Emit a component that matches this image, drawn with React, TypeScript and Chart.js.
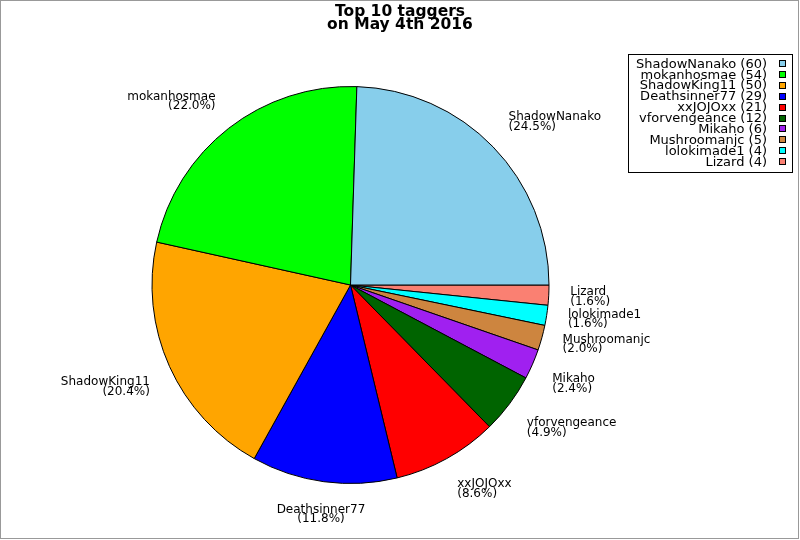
import React, { useEffect, useRef } from "react";
import { Chart, registerables } from "chart.js";

Chart.register(...registerables);

const titleLines = ["Top 10 taggers", "on May 4th 2016"];
const names = [
  "ShadowNanako",
  "mokanhosmae",
  "ShadowKing11",
  "Deathsinner77",
  "xxJOJOxx",
  "vforvengeance",
  "Mikaho",
  "Mushroomanjc",
  "lolokimade1",
  "Lizard",
];
const counts = [60, 54, 50, 29, 21, 12, 6, 5, 4, 4];
const colors = [
  "#87CEEB",
  "#00FF00",
  "#FFA500",
  "#0000FF",
  "#FF0000",
  "#006400",
  "#A020F0",
  "#CD853F",
  "#00FFFF",
  "#FA8072",
];

const FONT = "'DejaVu Sans', 'Liberation Sans', sans-serif";

// The pie is drawn counter-clockwise from 3 o'clock in the reference;
// Chart.js draws clockwise, so feed the series reversed starting at 3 o'clock.
const pieLabels = names.slice().reverse();
const pieValues = counts.slice().reverse();
const pieColors = colors.slice().reverse();

const sliceLabelPlugin = {
  id: "sliceLabels",
  afterDatasetsDraw(chart: any) {
    const ctx = chart.ctx;
    const meta = chart.getDatasetMeta(0);
    const data = chart.data.datasets[0].data as number[];
    const total = data.reduce((s, v) => s + v, 0);
    ctx.save();
    ctx.font = `12px ${FONT}`;
    ctx.fillStyle = "#000";
    ctx.textBaseline = "alphabetic";
    meta.data.forEach((arc: any, i: number) => {
      const p = arc.getProps(["x", "y", "startAngle", "endAngle", "outerRadius"], true);
      const mid = (p.startAngle + p.endAngle) / 2;
      const R = p.outerRadius + 21.5;
      const px = p.x + R * Math.cos(mid);
      const py = p.y + R * Math.sin(mid);
      const c = Math.cos(mid);
      const s = -Math.sin(mid); // math orientation (up positive)
      const lines = [
        String(chart.data.labels[i]),
        `(${((data[i] / total) * 100).toFixed(1)}%)`,
      ];
      const w = Math.max(...lines.map((l) => ctx.measureText(l).width));
      const h = 21;
      const dx = c > 0.34 ? 0 : c < -0.34 ? 1 : 0.5;
      const dy = s > 0.34 ? 1 : s < -0.34 ? 0 : 0.5;
      const left = px - dx * w;
      const top = py - dy * h;
      lines.forEach((line, k) => {
        const lw = ctx.measureText(line).width;
        let x = left;
        if (dx === 1) x = left + w - lw;
        else if (dx === 0.5) x = left + (w - lw) / 2;
        ctx.fillText(line, x, top + 9.5 + k * 9.7);
      });
    });
    ctx.restore();
  },
};

const titleLegendFramePlugin = {
  id: "titleLegendFrame",
  afterDraw(chart: any) {
    const ctx = chart.ctx;
    ctx.save();
    // outer frame
    ctx.strokeStyle = "#999999";
    ctx.lineWidth = 1;
    ctx.strokeRect(0.5, 0.5, 798, 538);
    // title
    ctx.fillStyle = "#000";
    ctx.font = `bold 15.5px ${FONT}`;
    ctx.textAlign = "center";
    ctx.textBaseline = "alphabetic";
    titleLines.forEach((t, i) => ctx.fillText(t, 400, 15.6 + i * 13.8));
    // legend box
    ctx.strokeStyle = "#000";
    ctx.strokeRect(628.5, 54.5, 164, 118);
    ctx.font = `13px ${FONT}`;
    ctx.textAlign = "right";
    names.forEach((n, i) => {
      const rowY = 60 + i * 10.9;
      ctx.fillStyle = "#000";
      ctx.fillText(`${n} (${counts[i]})`, 767, rowY + 7.6);
      ctx.fillStyle = colors[i];
      ctx.fillRect(779.5, Math.round(rowY) + 0.5, 6, 6);
      ctx.strokeStyle = "#000";
      ctx.strokeRect(779.5, Math.round(rowY) + 0.5, 6, 6);
    });
    ctx.restore();
  },
};

const whiteBg = {
  id: "whiteBg",
  beforeDraw(chart: any) {
    const ctx = chart.ctx;
    ctx.save();
    ctx.fillStyle = "#fff";
    ctx.fillRect(0, 0, chart.width, chart.height);
    ctx.restore();
  },
};

export default function App() {
  const ref = useRef<HTMLCanvasElement | null>(null);
  useEffect(() => {
    if (!ref.current) return;
    const chart = new Chart(ref.current, {
      type: "pie",
      data: {
        labels: pieLabels,
        datasets: [
          {
            data: pieValues,
            backgroundColor: pieColors,
            borderColor: "#000",
            borderWidth: 1,
          },
        ],
      },
      options: {
        animation: false,
        responsive: false,
        rotation: 90,
        layout: { padding: { left: 151.5, right: 250.5, top: 86, bottom: 56 } },
        plugins: {
          legend: { display: false },
          tooltip: { enabled: false },
          title: { display: false },
        },
      },
      plugins: [whiteBg, sliceLabelPlugin, titleLegendFramePlugin],
    });
    return () => chart.destroy();
  }, []);
  return (
    <div style={{ width: 800, height: 540 }}>
      <style>{`body{margin:0}`}</style>
      <canvas ref={ref} width={800} height={540} style={{ display: "block" }} />
    </div>
  );
}
